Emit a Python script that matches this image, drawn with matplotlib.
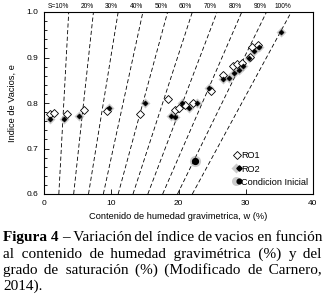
import matplotlib
matplotlib.use("Agg")
import matplotlib.pyplot as plt
from matplotlib.lines import Line2D
from matplotlib.legend_handler import HandlerTuple
from matplotlib.ticker import MultipleLocator
from matplotlib.font_manager import FontProperties, findfont
from matplotlib.ft2font import FT2Font
import numpy as np

# ---------------- data ----------------
ro1_w = [0.9, 1.5, 3.4, 5.9, 9.4, 14.3, 18.4, 19.5, 20.1, 21.0, 22.1, 24.8,
         26.6, 28.1, 28.7, 29.4, 30.6, 31.0, 31.8]
ro1_e = [0.775, 0.777, 0.776, 0.785, 0.783, 0.776, 0.809, 0.785, 0.788, 0.796, 0.800, 0.826,
         0.862, 0.881, 0.886, 0.889, 0.902, 0.924, 0.928]

ro2_w = [0.9, 2.9, 5.2, 9.6, 15.0, 18.9, 19.5, 20.5, 21.6, 22.7, 24.6, 26.6,
         27.5, 28.3, 29.0, 29.6, 30.5, 31.2, 31.9, 35.3]
ro2_e = [0.765, 0.765, 0.772, 0.790, 0.799, 0.772, 0.770, 0.799, 0.790, 0.800, 0.832, 0.853,
         0.856, 0.866, 0.873, 0.882, 0.900, 0.914, 0.923, 0.956]

ini_w = [22.4]
ini_e = [0.673]

saturations = [10, 20, 30, 40, 50, 60, 70, 80, 90, 100]
Gs = 2.72

x_ticks = [0, 10, 20, 30, 40]
y_ticks = [0.6, 0.7, 0.8, 0.9, 1.0]

caption_bold = "Figura 4"
caption_lines = [
    "– Variación del índice de vacios en función",
    "al contenido de humedad gravimétrica (%) y del",
    "grado de saturación (%) (Modificado de Carnero,",
    "2014).",
]

# ---------------- figure ----------------
W, H = 326, 297
fig = plt.figure(figsize=(W / 100, H / 100), dpi=100)
plt.rcParams['font.family'] = ['Liberation Sans', 'DejaVu Sans']

ax = fig.add_axes([44 / W, 1 - 194 / H, 269 / W, 182 / H])
ax.set_xlim(0, 40)
ax.set_ylim(0.6, 1.0)

# saturation lines
e_line = np.array([0.6, 1.0])
for S in saturations:
    w_line = e_line * S / Gs
    ax.plot(w_line, e_line, color='black', lw=0.6, ls=(0, (5, 3)), zorder=1)
    lab = f"S={S}%" if S == 10 else f"{S}%"
    ax.annotate(lab, xy=(w_line[1], 1.0), xytext=(0.0, 1.5), textcoords='offset points',
                ha='right', va='bottom', fontsize=4.8, annotation_clip=False)

halo = dict(color='0.55', alpha=0.45, ls='none', zorder=2)
ax.plot(ro2_w, ro2_e, marker='D', ms=5.2, mec='none', **halo)
ax.plot(ro1_w, ro1_e, marker='D', ms=3.8, mfc='white', mec='black', mew=0.6, ls='none', zorder=3)
ax.plot(ro2_w, ro2_e, marker='D', ms=2.7, mfc='black', mec='black', mew=0.3, ls='none', zorder=4)
ax.plot(ini_w, ini_e, marker='o', ms=8, mec='none', **halo)
ax.plot(ini_w, ini_e, marker='o', ms=4.2, color='black', ls='none', zorder=4)

ax.set_xticks(x_ticks)
ax.set_yticks(y_ticks)
ax.set_yticklabels([f"{v:.1f}" for v in y_ticks])
ax.yaxis.set_minor_locator(MultipleLocator(0.02))
ax.tick_params(which='both', direction='in', labelsize=6, width=0.6, pad=4)
ax.tick_params(which='major', length=3.5)
ax.tick_params(which='minor', length=2)
for sp in ax.spines.values():
    sp.set_linewidth(0.8)

ax.set_xlabel("Contenido de humedad gravimetrica, w (%)", fontsize=6.7, labelpad=4)
ax.set_ylabel("Indice de Vacios, e", fontsize=6.7, labelpad=7)

h1 = Line2D([], [], marker='D', ms=3.8, mfc='white', mec='black', mew=0.6, ls='none')
h2a = Line2D([], [], marker='D', ms=5.2, mec='none', **halo)
h2b = Line2D([], [], marker='D', ms=2.7, mfc='black', mec='black', ls='none')
h3a = Line2D([], [], marker='o', ms=6.5, mec='none', **halo)
h3b = Line2D([], [], marker='o', ms=3.4, color='black', ls='none')
ax.legend([h1, (h2a, h2b), (h3a, h3b)], ["RO1", "RO2", "Condicion Inicial"],
          handler_map={tuple: HandlerTuple(ndivide=None, pad=0)},
          loc='lower left', bbox_to_anchor=(0.695, 0.02), frameon=False, fontsize=6.6,
          handlelength=0.6, handletextpad=0.15, labelspacing=0.45, borderaxespad=0)

# ---------------- justified caption ----------------
fs = 11
serif = 'Liberation Serif'
fig.canvas.draw()
renderer = fig.canvas.get_renderer()
baselines = [241, 257.5, 274, 290]
x_left, x_right = 3, 322
prop_n = FontProperties(family=serif, size=fs)
prop_b = FontProperties(family=serif, size=fs, weight='bold')

try:
    cmap = FT2Font(findfont(prop_n)).get_charmap()
except Exception:
    cmap = {}
small = None
for c in ['\u200a', '\u2009', '\u2006']:
    if ord(c) in cmap:
        small = c
        break


def measure(s, prop=prop_n):
    return renderer.get_text_width_height_descent(s, prop, ismath=False)[0]


def justified_string(words, widths, gap):
    s = words[0]
    target = widths[0]
    fillers = [' ' * n for n in range(1, 7)]
    if small is not None:
        fillers = [' ' * n + small * m for n in range(0, 6) for m in range(0, 4) if n + m > 0]
    for k in range(1, len(words)):
        target += gap + widths[k]
        best = None
        for f in fillers:
            cand = s + f + words[k]
            err = abs(measure(cand) - target)
            if best is None or err < best[0]:
                best = (err, cand)
        s = best[1]
    return s


for k, (ln, yb) in enumerate(zip(caption_lines, baselines)):
    yf = 1 - yb / H
    words = ln.split(' ')
    widths = [measure(w) for w in words]
    if k == 0:
        wb = measure(caption_bold, prop_b)
        fig.text(x_left / W, yf, caption_bold, fontproperties=prop_b, va='baseline', ha='left')
        gap = (x_right - x_left - wb - sum(widths)) / len(words)
        s = justified_string(words, widths, gap)
        fig.text((x_left + wb + gap) / W, yf, s, fontproperties=prop_n, va='baseline', ha='left')
    elif k < len(caption_lines) - 1:
        gap = (x_right - x_left - sum(widths)) / (len(words) - 1)
        s = justified_string(words, widths, gap)
        fig.text(x_left / W, yf, s, fontproperties=prop_n, va='baseline', ha='left')
    else:
        fig.text(x_left / W, yf, ln, fontproperties=prop_n, va='baseline', ha='left')

fig.savefig("out.png", dpi=100)
